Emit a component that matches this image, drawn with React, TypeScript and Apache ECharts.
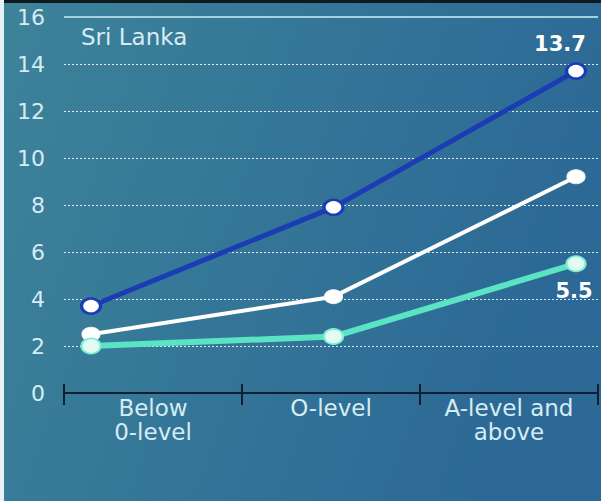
import React, { useEffect, useRef } from "react";
import * as echarts from "echarts";

// Education level categories
const categories = ["Below\n0-level", "O-level", "A-level and\nabove"];

// Series values (per cent)
const topSeries = [3.7, 7.9, 13.7];
const middleSeries = [2.5, 4.1, 9.2];
const lowSeries = [2.0, 2.4, 5.5];

// Value axis
const yMin = 0;
const yMax = 16;
const yInterval = 2;

const FONT = "DejaVu Sans";
const TEXT = "#d6ecf3";

export default function App() {
  const ref = useRef<HTMLDivElement>(null);

  useEffect(() => {
    if (!ref.current) return;
    const chart = echarts.init(ref.current, null, { renderer: "svg" });

    const gridTop = 17;
    const gridBottom = 108;

    chart.setOption({
      animation: false,
      backgroundColor: new echarts.graphic.LinearGradient(0, 0, 1, 0.3, [
        { offset: 0, color: "#3d8399" },
        { offset: 1, color: "#2c6996" },
      ]),
      grid: [
        { left: 64, right: 3, top: gridTop, bottom: gridBottom },
        { left: 91, right: 25, top: gridTop, bottom: gridBottom },
      ],
      xAxis: [
        {
          type: "category",
          gridIndex: 0,
          data: categories,
          boundaryGap: true,
          axisLine: { show: true, lineStyle: { color: "#0f1e30", width: 2 } },
          axisTick: {
            show: true,
            length: 12,
            alignWithLabel: false,
            lineStyle: { color: "#0f1e30", width: 2 },
          },
          axisLabel: {
            color: TEXT,
            fontFamily: FONT,
            fontSize: 23,
            lineHeight: 24,
            margin: 3,
            interval: 0,
          },
        },
        {
          type: "category",
          gridIndex: 1,
          data: categories,
          boundaryGap: false,
          show: false,
        },
        {
          type: "category",
          gridIndex: 0,
          data: categories,
          boundaryGap: true,
          position: "bottom",
          offset: 0,
          axisLine: { show: false },
          axisLabel: { show: false },
          axisTick: {
            show: true,
            inside: true,
            length: 9,
            alignWithLabel: false,
            lineStyle: { color: "#0f1e30", width: 2 },
          },
        },
      ],
      yAxis: [
        {
          type: "value",
          gridIndex: 0,
          min: yMin,
          max: yMax,
          interval: yInterval,
          axisLine: { show: false },
          axisTick: { show: false },
          axisLabel: {
            color: TEXT,
            fontFamily: FONT,
            fontSize: 22,
            margin: 19,
          },
          splitLine: {
            show: true,
            lineStyle: { color: "rgba(255,255,255,0.85)", width: 1, type: [2, 2] },
          },
        },
        {
          type: "value",
          gridIndex: 1,
          min: yMin,
          max: yMax,
          interval: yInterval,
          show: false,
          splitLine: { show: false },
        },
      ],
      series: [
        {
          // solid rule across the top of the plot
          type: "line",
          xAxisIndex: 0,
          yAxisIndex: 0,
          data: [],
          silent: true,
          markLine: {
            silent: true,
            symbol: "none",
            label: { show: false },
            lineStyle: { color: "#a6d0de", width: 2, type: "solid" },
            data: [{ yAxis: yMax }],
          },
        },
        {
          name: "middle",
          type: "line",
          xAxisIndex: 1,
          yAxisIndex: 1,
          data: middleSeries,
          z: 3,
          symbol: "circle",
          symbolSize: [18, 14],
          lineStyle: { color: "#ffffff", width: 4 },
          itemStyle: { color: "#ffffff", borderColor: "#f2f7f8", borderWidth: 1 },
        },
        {
          name: "top",
          type: "line",
          xAxisIndex: 1,
          yAxisIndex: 1,
          data: topSeries,
          z: 4,
          symbol: "circle",
          symbolSize: [19, 15],
          lineStyle: { color: "#1b3db4", width: 5 },
          itemStyle: { color: "#ffffff", borderColor: "#1b3db4", borderWidth: 3 },
          label: {
            show: true,
            formatter: (p: any) => (p.dataIndex === topSeries.length - 1 ? String(p.value) : ""),
            position: "top",
            offset: [-16, -3],
            color: "#ffffff",
            fontFamily: FONT,
            fontWeight: "bold",
            fontSize: 21,
          },
        },
        {
          name: "low",
          type: "line",
          xAxisIndex: 1,
          yAxisIndex: 1,
          data: lowSeries,
          z: 5,
          symbol: "circle",
          symbolSize: [19, 15],
          lineStyle: { color: "#5be4c3", width: 6 },
          itemStyle: { color: "#e4fbf4", borderColor: "#7eeed3", borderWidth: 2 },
          label: {
            show: true,
            formatter: (p: any) => (p.dataIndex === lowSeries.length - 1 ? String(p.value) : ""),
            position: "bottom",
            offset: [-2, 3],
            color: "#ffffff",
            fontFamily: FONT,
            fontWeight: "bold",
            fontSize: 21,
          },
        },
      ],
      graphic: [
        {
          type: "rect",
          left: 0,
          top: 0,
          shape: { width: 601, height: 3 },
          style: { fill: "#101820" },
          silent: true,
        },
        {
          type: "rect",
          left: 0,
          top: 0,
          shape: { width: 4, height: 501 },
          style: { fill: "#e6f3f6" },
          silent: true,
        },
        {
          type: "text",
          left: 81,
          top: 25,
          style: {
            text: "Sri Lanka",
            fill: TEXT,
            font: `23px "${FONT}"`,
          },
          silent: true,
        },
      ],
    });

    return () => chart.dispose();
  }, []);

  return (
    <div
      ref={ref}
      style={{ position: "fixed", left: 0, top: 0, width: 601, height: 501 }}
    />
  );
}
